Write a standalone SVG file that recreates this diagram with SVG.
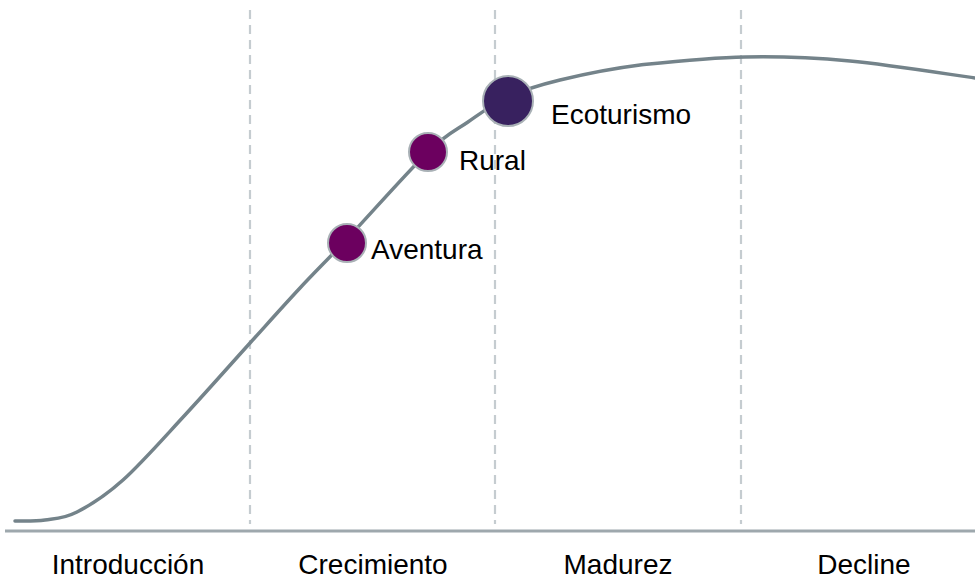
<svg xmlns="http://www.w3.org/2000/svg" width="975" height="579" viewBox="0 0 975 579">
<style>
.grid{stroke:#c5ccd0;stroke-width:2.2;stroke-dasharray:9 6;fill:none}
.axis{stroke:#9ea8ad;stroke-width:3;fill:none}
.curve{stroke:#74838a;stroke-width:3.5;fill:none;stroke-linecap:round}
.dot{stroke:#a9b1b6;stroke-width:2}
.lbl{font-family:"Liberation Sans",Arial,sans-serif;font-size:28px;fill:#000}
.stage{font-family:"Liberation Sans",Arial,sans-serif;font-size:28px;fill:#000;text-anchor:middle}
</style>
<g id="grid">
<line class="grid" x1="250" y1="10" x2="250" y2="524"/>
<line class="grid" x1="495" y1="10" x2="495" y2="524"/>
<line class="grid" x1="741" y1="10" x2="741" y2="524"/>
<line class="axis" x1="5" y1="531" x2="975" y2="531"/>
</g>
<g id="connectors">
<path class="curve" d="M15,521 C20,520.83 34.67,521.5 45,520 C55.33,518.5 64,518.67 77,512 C90,505.33 105,496.17 123,480 C141,463.83 163.83,437.83 185,415 C206.17,392.17 230.83,364.17 250,343 C269.17,321.83 283.83,305.33 300,288 C316.17,270.67 325.67,261.67 347,239 C368.33,216.33 407.83,171.5 428,152 C448.17,132.5 454.67,131.17 468,122 C481.33,112.83 492.67,104 508,97 C523.33,90 538,85.33 560,80 C582,74.67 609.17,68.83 640,65 C670.83,61.83 710,57.67 745,57 C780,56.17 811.67,57.5 850,61 C888.33,64.5 954.17,75.17 975,78"/>
</g>
<g id="node-aventura">
<circle class="dot" cx="347" cy="243" r="19" fill="#6c005f"/>
<text class="lbl" x="371" y="259">Aventura</text>
</g>
<g id="node-rural">
<circle class="dot" cx="428" cy="152" r="19" fill="#6c005f"/>
<text class="lbl" x="459" y="170">Rural</text>
</g>
<g id="node-ecoturismo">
<circle class="dot" cx="508" cy="101" r="25" fill="#38215f"/>
<text class="lbl" x="551" y="124">Ecoturismo</text>
</g>
<g id="stages">
<text class="stage" x="128" y="574">Introducción</text>
<text class="stage" x="373" y="574">Crecimiento</text>
<text class="stage" x="618" y="574">Madurez</text>
<text class="stage" x="864" y="574">Decline</text>
</g>
</svg>
